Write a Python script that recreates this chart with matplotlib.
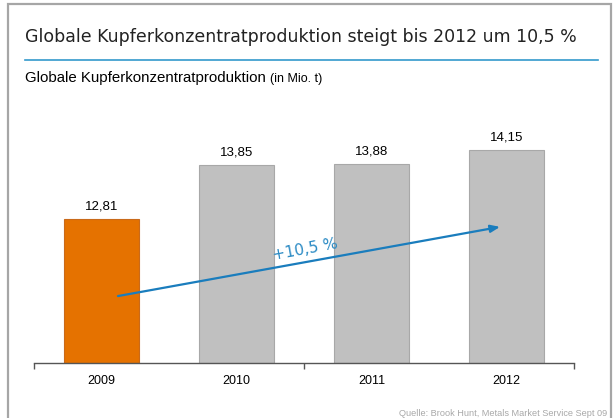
import matplotlib
matplotlib.use("Agg")
import matplotlib.pyplot as plt
from matplotlib.patches import Rectangle
from matplotlib.lines import Line2D

years = ["2009", "2010", "2011", "2012"]
values = [12.81, 13.85, 13.88, 14.15]
value_labels = ["12,81", "13,85", "13,88", "14,15"]
bar_colors = ["#e57200", "#c0c0c0", "#c0c0c0", "#c0c0c0"]
edge_colors = ["#c96a1a", "#a8a8a8", "#a8a8a8", "#a8a8a8"]

title = "Globale Kupferkonzentratproduktion steigt bis 2012 um 10,5 %"
subtitle = "Globale Kupferkonzentratproduktion"
unit = "(in Mio. t)"
source = "Quelle: Brook Hunt, Metals Market Service Sept 09"
growth = "+10,5 %"

W, H = 614, 418
fig = plt.figure(figsize=(W / 100, H / 100), dpi=100)

# frame around the slide
fig.patches.append(Rectangle((7.5 / W, -0.05), 603 / W, 1.05 - 4 / H, transform=fig.transFigure,
                             fill=False, edgecolor="#a6a6a6", linewidth=1.6))

fig.text(25 / W, 1 - 42 / H, title, fontsize=12.5, family="DejaVu Sans", color="#222222",
         va="baseline")
fig.add_artist(Line2D([25 / W, 598 / W], [1 - 60 / H, 1 - 60 / H], transform=fig.transFigure,
                      color="#3399cc", linewidth=1.2))
t = fig.text(25 / W, 1 - 82 / H, subtitle, fontsize=10.8, family="Liberation Sans", color="black",
             va="baseline")
fig.canvas.draw()
bb = t.get_window_extent()
fig.text(bb.x1 / W + 4 / W, 1 - 82 / H, unit, fontsize=9, family="Liberation Sans", color="black",
         va="baseline")

fig.text(607 / W, 1 - 413 / H, source, fontsize=6.6, family="Liberation Sans", color="#a8a8a8",
         ha="right", va="center")

ax = fig.add_axes([34 / W, (H - 362.7) / H, 540 / W, 256.25 / H])
x = range(len(years))
ax.bar(x, [v - 10 for v in values], bottom=10, width=0.556, color=bar_colors,
       edgecolor=edge_colors, linewidth=0.8, zorder=2)
for i, (v, lab) in enumerate(zip(values, value_labels)):
    ax.text(i, v + 0.13, lab, ha="center", va="bottom", fontsize=9.5, family="Liberation Sans")

ax.set_xlim(-0.5, 3.5)
ax.set_ylim(10, 15)
for s in ["top", "right", "left"]:
    ax.spines[s].set_visible(False)
ax.spines["bottom"].set_color("#555555")
ax.spines["bottom"].set_linewidth(1.0)
ax.set_yticks([])
ax.set_xticks(list(x))
ax.set_xticklabels(years, fontsize=9, family="Liberation Sans")
ax.tick_params(axis="x", which="major", length=0, pad=9)
ax.set_xticks([-0.5, 1.5, 3.5], minor=True)
ax.tick_params(axis="x", which="minor", length=4, color="#555555", width=1)

ax.annotate("", xy=(2.952, 12.65), xytext=(0.122, 11.30), annotation_clip=False,
            arrowprops=dict(arrowstyle="-|>,head_length=0.55,head_width=0.22", color="#1a7dbd",
                            linewidth=1.6, shrinkA=0, shrinkB=0), zorder=3)
ax.text(1.507, 12.2, growth, rotation=10.5, ha="center", va="center", fontsize=11,
        family="DejaVu Sans", color="#2a8ac4", zorder=3)

fig.savefig("out.png", dpi=100)
